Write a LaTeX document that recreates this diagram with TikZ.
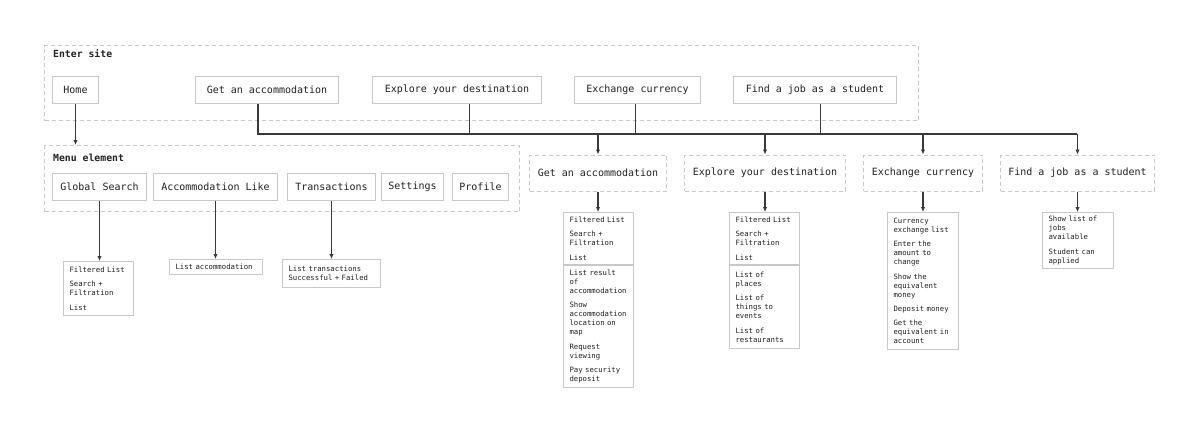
\documentclass[tikz,border=0pt]{standalone}
\usepackage{fontspec}
\setmainfont{DejaVu Sans Mono}
\usetikzlibrary{arrows.meta,positioning}
\definecolor{ink}{HTML}{222222}
\definecolor{wire}{HTML}{3A3A3A}
\definecolor{edge}{HTML}{C8C8C8}

\begin{document}
\begin{tikzpicture}[x=1pt,y=-1pt,node distance=0pt,
  box/.style={draw=edge,line width=1pt,fill=white,minimum height=27pt,inner sep=0pt,anchor=west,
              font=\fontsize{10}{12}\selectfont,text=ink},
  grp/.style={draw=edge,line width=1pt,dash pattern=on 4pt off 3pt,inner sep=0pt,anchor=north west},
  sect/.style={grp,anchor=west,minimum height=36pt,font=\fontsize{10}{12}\selectfont,text=ink},
  head/.style={anchor=west,inner sep=0pt,font=\bfseries\fontsize{9.8}{12}\selectfont,text=ink},
  lst/.style={draw=edge,line width=1pt,fill=white,anchor=north west,align=left,inner xsep=6pt,inner ysep=3.5pt,
              font=\fontsize{7.3}{9}\selectfont,text=ink},
  ln/.style={wire,line width=1.3pt},
  arr/.style={ln,-{Latex[length=5pt,width=4.5pt]}}]
  \useasboundingbox (0,0) rectangle (1200,431);

  % entry level
  \node[grp,minimum width=874pt,minimum height=75pt] (enter) at (44,45) {};
  \node[head] (enterlbl) at (53,54) {Enter site};
  \node[box,minimum width=46pt] (home) at (52,89.5) {Home};
  \node[box,minimum width=143pt] (getacc) at (195,89.5) {Get an accommodation};
  \node[box,minimum width=169pt] (explore) at (372,89.5) {Explore your destination};
  \node[box,minimum width=126pt] (exch) at (574,89.5) {Exchange currency};
  \node[box,minimum width=163pt] (job) at (733,89.5) {Find a job as a student};

  % menu
  \node[grp,minimum width=475pt,minimum height=66pt] (menu) at (44,145) {};
  \node[head] (menulbl) at (53,158) {Menu element};
  \node[box,minimum width=94pt] (gsearch) at (52,186.5) {Global Search};
  \node[box,minimum width=124pt] (acclike) at (153,186.5) {Accommodation Like};
  \node[box,minimum width=88pt] (trans) at (287,186.5) {Transactions};
  \node[box,minimum width=62pt] (sett) at (381,186.5) {Settings};
  \node[box,minimum width=56pt] (prof) at (452,186.5) {Profile};

  \node[lst,text width=58pt,minimum height=54pt] (glist) at (63,261)
    {Filtered List\\[5.4pt]Search +\\Filtration\\[5.4pt]List};
  \node[lst,text width=81pt,minimum height=15pt] (alist) at (169,259) {List accommodation};
  \node[lst,text width=86pt,minimum height=28pt] (tlist) at (282,259) {List transactions\\Successful + Failed};

  % sections
  \node[sect,minimum width=137pt] (getsec) at (529,173) {Get an accommodation};
  \node[sect,minimum width=161pt] (expsec) at (684,173) {Explore your destination};
  \node[sect,minimum width=119pt] (exsec) at (863,173) {Exchange currency};
  \node[sect,minimum width=154pt] (jobsec) at (1000,173) {Find a job as a student};

  \node[lst,text width=58pt,minimum height=52pt] (getup) at (563,212)
    {Filtered List\\[5.4pt]Search +\\Filtration\\[5.4pt]List};
  \node[lst,text width=58pt,minimum height=122pt,below=of getup] (getlow)
    {List result\\of\\accommodation\\[5.4pt]Show\\accommodation\\location on\\map\\[5.4pt]Request\\viewing\\[5.4pt]Pay security\\deposit};
  \node[lst,text width=58pt,minimum height=52pt] (expup) at (729,212)
    {Filtered List\\[5.4pt]Search +\\Filtration\\[5.4pt]List};
  \node[lst,text width=58pt,minimum height=83pt,below=of expup] (explow)
    {List of\\places\\[5.4pt]List of\\things to\\events\\[5.4pt]List of\\restaurants};
  \node[lst,text width=59pt,minimum height=137pt] (exlist) at (887,212)
    {Currency\\exchange list\\[5.4pt]Enter the\\amount to\\change\\[5.4pt]Show the\\equivalent\\money\\[5.4pt]Deposit money\\[5.4pt]Get the\\equivalent in\\account};
  \node[lst,text width=59pt,minimum height=56pt] (joblist) at (1042,212)
    {Show list of\\jobs\\available\\[5.4pt]Student can\\applied};

  % connectors
  \coordinate (busL) at (258,134);
  \coordinate (busR) at (1077,134);
  \draw[arr] (home.south) -- (home.south |- menu.north);
  \draw[ln] (getacc.south -| busL) |- (busR);
  \draw[ln] ([xshift=12.5pt]explore.south) -- ++(0,31);
  \draw[ln] ([xshift=-2pt]exch.south) -- ++(0,31);
  \draw[ln] ([xshift=5.5pt]job.south) -- ++(0,31);
  \foreach \s in {getsec,expsec,exsec,jobsec}
    \draw[arr] (\s.north |- busL) -- (\s.north);
  \draw[arr] (getsec.south) -- (getsec.south |- getup.north);
  \draw[arr] (expsec.south) -- (expsec.south |- expup.north);
  \draw[arr] (exsec.south) -- (exsec.south |- exlist.north);
  \draw[arr] (jobsec.south) -- (jobsec.south |- joblist.north);
  \draw[arr] (gsearch.south) -- (gsearch.south |- glist.north);
  \draw[arr] (acclike.south) -- (acclike.south |- alist.north);
  \draw[arr] (trans.south) -- (trans.south |- tlist.north);
\end{tikzpicture}
\end{document}
